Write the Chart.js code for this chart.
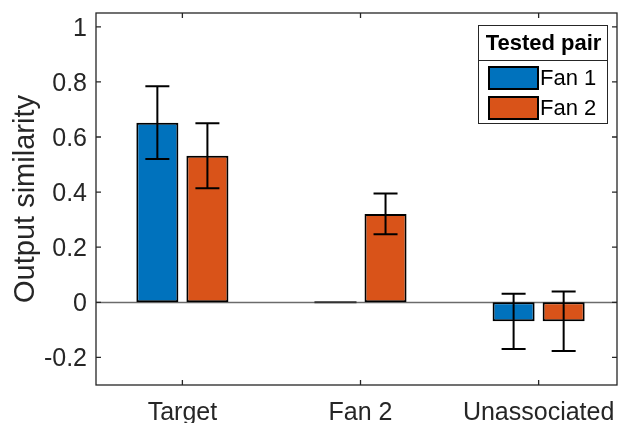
<!DOCTYPE html>
<html>
<head>
<meta charset="utf-8">
<script src="https://cdn.jsdelivr.net/npm/chart.js@4"></script>
<style>
  html, body { margin: 0; padding: 0; background: #fff; }
  #wrap { width: 622px; height: 423px; }
</style>
</head>
<body>
<div id="wrap"><canvas id="c" width="622" height="423"></canvas></div>
<script>
// Categories and series
const categories = ['Target', 'Fan 2', 'Unassociated'];
const seriesNames = ['Fan 1', 'Fan 2'];
const fan1Mean = [0.652, 0, -0.069];
const fan1Err  = [0.132, null, 0.100];
const fan2Mean = [0.532, 0.321, -0.069];
const fan2Err  = [0.118, 0.074, 0.108];
const yTickValues = [-0.2, 0, 0.2, 0.4, 0.6, 0.8, 1];
const legendTitle = 'Tested pair';
const yTitle = 'Output similarity';

const COLORS = ['#0072BD', '#D95319'];
const AXIS = '#262626';
const FONT = '"Liberation Sans", Arial, Helvetica, sans-serif';

function points(vals) { return vals.map((v, i) => ({ x: i + 1, y: v })); }

// Box, inward tick marks and the zero baseline
const axesBox = {
  id: 'axesBox',
  beforeDatasetsDraw(chart) {
    const { ctx, chartArea: a, scales: { y } } = chart;
    const y0 = Math.round(y.getPixelForValue(0)) + 0.5;
    ctx.save();
    ctx.strokeStyle = '#6b6b6b';
    ctx.lineWidth = 1.3;
    ctx.beginPath(); ctx.moveTo(a.left, y0); ctx.lineTo(a.right, y0); ctx.stroke();
    ctx.restore();
  },
  afterDraw(chart) {
    const { ctx, chartArea: a, scales: { x, y } } = chart;
    const t = 5;
    ctx.save();
    ctx.strokeStyle = AXIS;
    ctx.lineWidth = 1.3;
    ctx.strokeRect(a.left, a.top, a.right - a.left, a.bottom - a.top);
    ctx.beginPath();
    y.ticks.forEach(tk => {
      const py = y.getPixelForValue(tk.value);
      ctx.moveTo(a.left, py); ctx.lineTo(a.left + t, py);
      ctx.moveTo(a.right, py); ctx.lineTo(a.right - t, py);
    });
    x.ticks.forEach(tk => {
      const px = x.getPixelForValue(tk.value);
      ctx.moveTo(px, a.bottom); ctx.lineTo(px, a.bottom - t);
      ctx.moveTo(px, a.top); ctx.lineTo(px, a.top + t);
    });
    ctx.stroke();
    ctx.restore();
  }
};

// Error bars with caps, drawn from each dataset's err array
const errorBars = {
  id: 'errorBars',
  afterDatasetsDraw(chart) {
    const { ctx, scales: { y } } = chart;
    ctx.save();
    ctx.strokeStyle = '#000';
    ctx.lineWidth = 2;
    chart.data.datasets.forEach((ds, di) => {
      const meta = chart.getDatasetMeta(di);
      meta.data.forEach((bar, i) => {
        const v = ds.data[i].y;
        const e = ds.err[i];
        if (v === 0) {
          ctx.save();
          ctx.strokeStyle = '#333';
          ctx.beginPath();
          ctx.moveTo(bar.x - bar.width / 2, bar.y);
          ctx.lineTo(bar.x + bar.width / 2, bar.y);
          ctx.stroke();
          ctx.restore();
        }
        if (e == null) return;
        const top = y.getPixelForValue(v + e);
        const bot = y.getPixelForValue(v - e);
        const cap = 12;
        ctx.beginPath();
        ctx.moveTo(bar.x, top); ctx.lineTo(bar.x, bot);
        ctx.moveTo(bar.x - cap, top); ctx.lineTo(bar.x + cap, top);
        ctx.moveTo(bar.x - cap, bot); ctx.lineTo(bar.x + cap, bot);
        ctx.stroke();
      });
    });
    ctx.restore();
  }
};

// Boxed legend with title row in the upper right of the axes
const boxLegend = {
  id: 'boxLegend',
  afterDraw(chart) {
    const { ctx, chartArea: a } = chart;
    const L = a.right - 139, T = a.top + 12, W = 129, H = 98, sep = 35;
    ctx.save();
    ctx.fillStyle = '#fff';
    ctx.fillRect(L, T, W, H);
    ctx.strokeStyle = AXIS;
    ctx.lineWidth = 1;
    ctx.strokeRect(L + 0.5, T + 0.5, W, H);
    ctx.beginPath(); ctx.moveTo(L, T + sep + 0.5); ctx.lineTo(L + W, T + sep + 0.5); ctx.stroke();
    ctx.fillStyle = '#000';
    ctx.textBaseline = 'middle';
    ctx.textAlign = 'center';
    ctx.font = 'bold 22px ' + FONT;
    ctx.fillText(legendTitle, L + W / 2 + 1, T + sep / 2 + 1);
    ctx.textAlign = 'left';
    ctx.font = '22px ' + FONT;
    chart.data.datasets.forEach((ds, i) => {
      const cy = T + sep + 18 + i * 30;
      ctx.fillStyle = ds.backgroundColor;
      ctx.fillRect(L + 11, cy - 11, 49, 22);
      ctx.strokeStyle = '#000';
      ctx.lineWidth = 2;
      ctx.strokeRect(L + 11, cy - 11, 49, 22);
      ctx.fillStyle = '#000';
      ctx.fillText(ds.label, L + 62, cy + 1);
    });
    ctx.restore();
  }
};

new Chart(document.getElementById('c'), {
  type: 'bar',
  data: {
    datasets: [
      { label: seriesNames[0], data: points(fan1Mean), err: fan1Err,
        backgroundColor: COLORS[0], borderColor: '#000', borderWidth: 2, borderSkipped: false },
      { label: seriesNames[1], data: points(fan2Mean), err: fan2Err,
        backgroundColor: COLORS[1], borderColor: '#000', borderWidth: 2, borderSkipped: false }
    ]
  },
  options: {
    responsive: false,
    animation: false,
    devicePixelRatio: 1,
    categoryPercentage: 0.562,
    barPercentage: 0.84,
    layout: { padding: { left: 0, top: 13, right: 5, bottom: 0 } },
    plugins: { legend: { display: false }, tooltip: { enabled: false } },
    scales: {
      x: {
        type: 'linear', offset: false, min: 0.515, max: 3.44,
        grid: { display: false, drawTicks: false }, border: { display: false },
        afterBuildTicks: s => { s.ticks = categories.map((c, i) => ({ value: i + 1 })); },
        afterFit: s => { s.height = 38; s.paddingLeft = 0; s.paddingRight = 0; },
        ticks: {
          color: '#262626', padding: 13, maxRotation: 0, autoSkip: false,
          font: { family: FONT, size: 25 },
          callback: v => categories[v - 1]
        }
      },
      y: {
        min: -0.3, max: 1.05,
        grid: { display: false, drawTicks: false }, border: { display: false },
        afterBuildTicks: s => { s.ticks = yTickValues.map(v => ({ value: v })); },
        afterFit: s => { s.width = 96; s.paddingTop = 0; s.paddingBottom = 0; },
        ticks: {
          color: '#262626', padding: 9, labelOffset: 2,
          font: { family: FONT, size: 25 },
          callback: v => String(Math.round(v * 10) / 10)
        },
        title: {
          display: true, text: yTitle, color: '#262626', padding: { top: 9, bottom: 0 },
          font: { family: FONT, size: 29 }
        }
      }
    }
  },
  plugins: [axesBox, errorBars, boxLegend]
});
</script>
</body>
</html>
